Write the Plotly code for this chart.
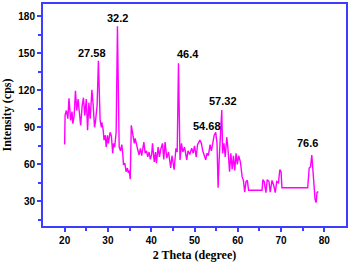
import plotly.graph_objects as go

two_theta = [20.0, 20.1, 20.4, 20.75, 21.0, 21.4, 21.7, 21.9, 22.2, 22.5, 22.8, 23.1, 23.4, 23.7, 24.05,
             24.35, 24.65, 25.0, 25.3, 25.6, 25.9, 26.3, 26.6, 26.9, 27.1, 27.5, 27.8, 28.0, 28.2, 28.5,
             28.6, 28.9, 29.1, 29.4, 29.6, 29.9, 30.1, 30.5, 30.8, 31.1, 31.3, 31.55, 31.9, 32.2, 32.45,
             32.6, 32.9, 33.2, 33.4, 33.6, 33.9, 34.2, 34.5, 34.7, 34.95, 35.15, 35.4, 35.7, 36.1, 36.3,
             36.6, 36.9, 37.2, 37.5, 37.8, 38.3, 38.6, 38.9, 39.2, 39.5, 39.8, 40.1, 40.3, 40.7, 41.0,
             41.2, 41.6, 41.9, 42.2, 42.6, 42.9, 43.2, 43.6, 44.0, 44.5, 44.8, 45.3, 45.7, 46.0, 46.3,
             46.65, 47.0, 47.3, 47.7, 48.2, 48.5, 48.9, 49.35, 49.7, 50.0, 50.4, 50.7, 51.25, 51.6, 51.9,
             52.6, 52.9, 53.2, 53.6, 53.9, 54.55, 54.9, 55.2, 55.45, 55.7, 56.3, 56.5, 56.8, 57.1, 57.45,
             57.7, 58.1, 58.4, 58.7, 59.0, 59.3, 59.6, 59.9, 60.2, 60.6, 61.0, 61.3, 61.6, 61.9, 62.2,
             62.5, 65.6, 65.8, 66.1, 66.5, 66.8, 67.2, 67.5, 67.9, 68.3, 68.65, 69.0, 69.4, 69.7, 70.0,
             70.2, 76.15, 76.5, 76.8, 77.1, 77.4, 77.6, 77.85, 78.1, 78.3, 78.6]
intensity = [76, 100, 103.6, 97, 113.5, 95.6, 102.8, 93, 99.6, 119.6, 103.6, 113, 102, 91.6, 107.6,
             114, 99.6, 113, 87.6, 110, 97, 120.4, 107.6, 90, 94, 107.6, 144, 110, 95.6, 90,
             94, 88, 79.6, 83.6, 74, 83.6, 77, 86, 83, 69, 77, 74, 86, 172, 90,
             74, 71, 76, 70, 59.6, 61, 54, 57, 53, 55, 48, 91.6, 86, 77, 81,
             75, 71.6, 67.6, 73, 67, 78, 69, 71, 66, 70, 64, 68, 77, 62, 70,
             61, 74, 66, 72, 77, 64, 78, 65, 70, 57, 67, 55.6, 73, 70, 142,
             63.6, 77, 70, 74, 63.6, 71, 68, 73, 69, 75, 66, 76, 79.6, 77, 71,
             63.6, 69, 67, 76, 71, 83.6, 86, 77, 41, 64, 104, 69, 77, 66, 82,
             74, 54, 69, 56, 67, 55, 69, 60, 67, 62, 50, 47, 37.5, 46, 47,
             39, 39, 47.6, 46, 37, 47.6, 46, 37.5, 47, 43, 37, 46, 45, 55.6, 54,
             41, 41, 57, 58, 67.6, 52, 37, 31.6, 29, 37, 38]

peak_labels = ["27.58", "32.2", "46.4", "54.68", "57.32", "76.6"]
label_x = [26.4, 32.1, 48.5, 52.8, 56.6, 76.2]
label_y = [150.2, 179, 149.5, 91.2, 111.4, 77]

x_ticks = [20, 30, 40, 50, 60, 70, 80]
y_ticks = [30, 60, 90, 120, 150, 180]

axis_blue = "#3d3dff"

fig = go.Figure()
fig.add_trace(go.Scatter(x=two_theta, y=intensity, mode="lines",
                         line=dict(color="#ff00ff", width=1.4), showlegend=False))

for t, xx, yy in zip(peak_labels, label_x, label_y):
    fig.add_annotation(x=xx, y=yy, text=t, showarrow=False, xref="x", yref="y",
                       font=dict(family="Liberation Sans", size=11, color="black", weight="bold"))

fig.update_layout(
    width=350, height=262,
    margin=dict(l=43, r=2, t=2, b=35),
    paper_bgcolor="white", plot_bgcolor="white",
    xaxis=dict(range=[15, 85], tickvals=x_ticks, ticks="outside", ticklen=4, tickwidth=1.5,
               tickcolor=axis_blue, showline=True, linecolor=axis_blue, linewidth=2, mirror=True,
               showgrid=False, zeroline=False,
               minor=dict(tickvals=[25, 35, 45, 55, 65, 75], ticks="outside", ticklen=3,
                          tickwidth=1.5, tickcolor=axis_blue),
               tickfont=dict(family="Liberation Sans", size=10, color="black", weight="bold"),
               title=dict(text="2 Theta (degree)", standoff=6,
                          font=dict(family="Liberation Serif", size=12, color="black", weight="bold"))),
    yaxis=dict(range=[10, 190], tickvals=y_ticks, ticks="outside", ticklen=4, tickwidth=1.5,
               tickcolor=axis_blue, showline=True, linecolor=axis_blue, linewidth=2, mirror=True,
               showgrid=False, zeroline=False,
               minor=dict(tickvals=[15, 45, 75, 105, 135, 165], ticks="outside", ticklen=3,
                          tickwidth=1.5, tickcolor=axis_blue),
               tickfont=dict(family="Liberation Sans", size=10, color="black", weight="bold"),
               title=dict(text="Intensity (cps)", standoff=4,
                          font=dict(family="Liberation Serif", size=12, color="black", weight="bold"))),
)

fig.write_html("out.html", config={"displayModeBar": False},
               post_script="document.body.style.margin='0';")
